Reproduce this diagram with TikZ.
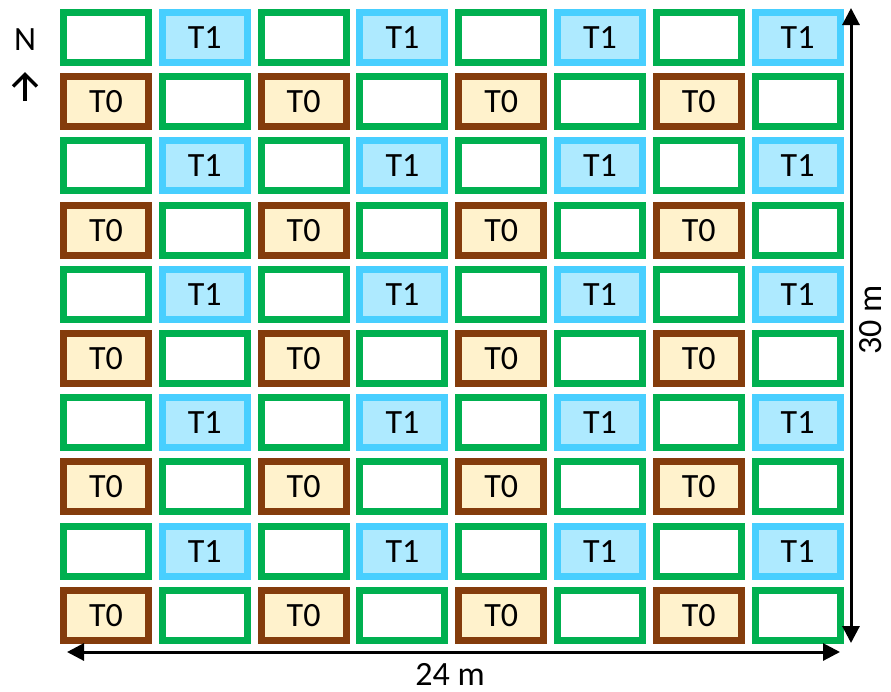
\documentclass[tikz,border=0pt]{standalone}
\usepackage{fontspec}
\setmainfont{Carlito}
\usetikzlibrary{arrows.meta}
\definecolor{PlotGreen}{RGB}{0,176,80}
\definecolor{TOneBlue}{RGB}{72,207,255}
\definecolor{TOneFill}{RGB}{174,234,255}
\definecolor{TZeroBrown}{RGB}{132,60,12}
\definecolor{TZeroFill}{RGB}{255,242,204}

\begin{document}
\begin{tikzpicture}[x=1pt, y=-1pt,
    plot/.style={rectangle, line width=7pt, minimum width=85pt, minimum height=50pt, inner sep=0pt, font=\fontsize{34}{38}\selectfont},
    ctrl/.style={plot, draw=PlotGreen, fill=white},
    tone/.style={plot, draw=TOneBlue, fill=TOneFill},
    tzero/.style={plot, draw=TZeroBrown, fill=TZeroFill},
    dim/.style={line width=3pt, {Triangle[length=17pt,width=17pt]}-{Triangle[length=17pt,width=17pt]}},
    lbl/.style={font=\fontsize{34}{38}\selectfont, inner sep=0pt}]
    \useasboundingbox (0,0) rectangle (891,691);

    % Plots
    \foreach \r in {1,...,10}
      \foreach \c in {1,...,8} {
        \ifodd\r
          \ifodd\c \node[ctrl] (p\r-\c) at ({106+(\c-1)*98.8},{37.5+(\r-1)*64.2}) {};
          \else \node[tone] (p\r-\c) at ({106+(\c-1)*98.8},{37.5+(\r-1)*64.2}) {T1};
          \fi
        \else
          \ifodd\c \node[tzero] (p\r-\c) at ({106+(\c-1)*98.8},{37.5+(\r-1)*64.2}) {T0};
          \else \node[ctrl] (p\r-\c) at ({106+(\c-1)*98.8},{37.5+(\r-1)*64.2}) {};
          \fi
        \fi
      }

    % North
    \node[lbl] (north) at (25,40) {N};
    \coordinate (nbase) at (25,101);
    \coordinate (ntip) at (25,72);
    \draw[line width=3.5pt, -{Straight Barb[length=12pt,width=24pt]}] (nbase) -- (ntip);

    % Dimensions
    \coordinate (vtop) at (851,8);
    \coordinate (vbot) at (851,643);
    \draw[dim] (vbot) -- (vtop);
    \node[lbl, rotate=90] (height) at (871,320) {30 m};
    \coordinate (hleft) at (67,652);
    \coordinate (hright) at (840,652);
    \draw[dim] (hleft) -- (hright);
    \node[lbl] (width) at (450,674) {24 m};
\end{tikzpicture}
\end{document}
